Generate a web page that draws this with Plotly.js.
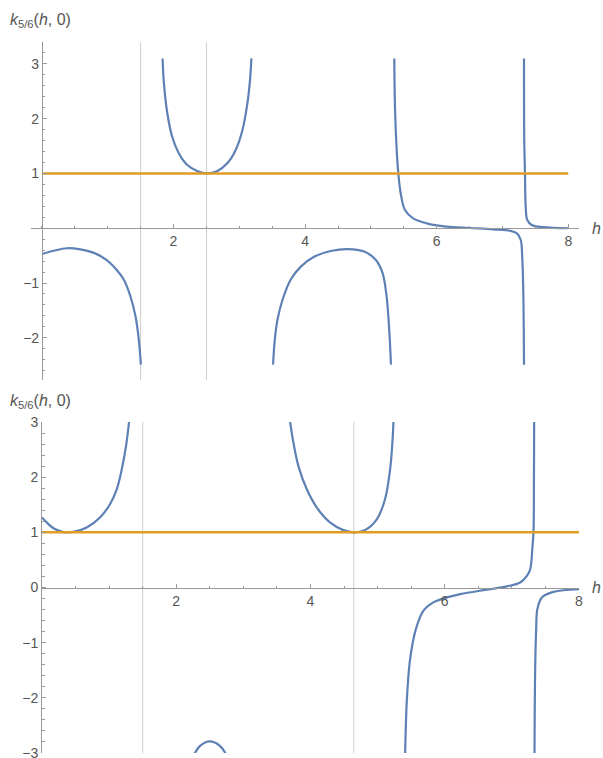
<!DOCTYPE html>
<html>
<head>
<meta charset="utf-8">
<script src="https://cdn.plot.ly/plotly-3.0.1.min.js"></script>
<style>
  html, body { margin: 0; padding: 0; background: #fff; }
  #plot { width: 603px; height: 758px; }
</style>
</head>
<body>
<div id="plot"></div>
<script>
// upper panel, branches of k(h)
const upA_h = [0, 0.18, 0.38, 0.585, 0.78, 0.985, 1.09, 1.245, 1.347, 1.423, 1.473, 1.504];
const upA_k = [-0.47, -0.41, -0.365, -0.385, -0.445, -0.58, -0.70, -0.94, -1.25, -1.61, -2.04, -2.49];
const upB_h = [1.834, 1.854, 1.906, 1.98, 2.08, 2.21, 2.36, 2.51, 2.667, 2.82, 2.945, 3.047, 3.123, 3.163, 3.184];
const upB_k = [3.10, 2.65, 2.10, 1.67, 1.37, 1.155, 1.045, 1.0, 1.045, 1.19, 1.43, 1.79, 2.28, 2.71, 3.10];
const upC_h = [3.513, 3.539, 3.58, 3.656, 3.78, 3.935, 4.137, 4.39, 4.645, 4.898, 5.076, 5.178, 5.239, 5.279, 5.305];
const upC_k = [-2.49, -2.04, -1.67, -1.31, -0.94, -0.70, -0.52, -0.415, -0.38, -0.425, -0.58, -0.82, -1.25, -1.86, -2.49];
const upD_h = [5.356, 5.366, 5.392, 5.417, 5.453, 5.518, 5.644, 5.848, 6.152, 6.506, 6.86, 7.114, 7.216, 7.277, 7.30, 7.316, 7.327];
const upD_k = [3.10, 2.22, 1.43, 1.00, 0.64, 0.334, 0.18, 0.09, 0.03, 0.005, -0.02, -0.045, -0.09, -0.21, -0.52, -1.13, -2.49];
const upE_h = [7.327, 7.331, 7.342, 7.353, 7.377, 7.444, 7.62, 8.0];
const upE_k = [3.10, 1.61, 1.00, 0.39, 0.15, 0.06, 0.02, 0.0];
const upGrid = [1.5, 2.5];

// lower panel
const loA_h = [0, 0.07, 0.17, 0.32, 0.39, 0.466, 0.666, 0.864, 1.013, 1.113, 1.188, 1.252, 1.297];
const loA_k = [1.27, 1.18, 1.075, 1.005, 1.0, 1.008, 1.087, 1.27, 1.51, 1.78, 2.14, 2.565, 3.0];
const loB_h = [2.27, 2.355, 2.50, 2.65, 2.74];
const loB_k = [-3.02, -2.87, -2.79, -2.87, -3.02];
const loC_h = [3.696, 3.745, 3.82, 3.945, 4.094, 4.29, 4.49, 4.64, 4.81, 4.99, 5.11, 5.186, 5.22, 5.236];
const loC_k = [3.0, 2.63, 2.20, 1.78, 1.45, 1.18, 1.04, 1.0, 1.04, 1.24, 1.60, 2.14, 2.63, 3.0];
const loD_h = [5.41, 5.435, 5.484, 5.57, 5.683, 5.83, 5.93, 6.23, 6.627, 6.925, 7.124, 7.224, 7.273, 7.307, 7.322, 7.328, 7.332];
const loD_k = [-3.02, -2.05, -1.30, -0.755, -0.42, -0.27, -0.22, -0.12, -0.04, 0.02, 0.09, 0.21, 0.33, 0.75, 1.0, 1.66, 3.0];
const loE_h = [7.337, 7.347, 7.362, 7.38, 7.447, 7.62, 8.0];
const loE_k = [-3.02, -1.48, -0.755, -0.39, -0.18, -0.08, -0.03];
const loGrid = [1.5, 4.645];

// reference level k = 1
const level_h = [0, 8];
const level_k = [1, 1];

const xTicks = [2, 4, 6, 8];
const upYTicks = [-2, -1, 1, 2, 3];
const loYTicks = [-3, -2, -1, 0, 1, 2, 3];

const blue = '#5e81b5';
const orange = '#e19c24';

function branch(h, k, xa, ya) {
  return {
    x: h, y: k, xaxis: xa, yaxis: ya, type: 'scatter', mode: 'lines',
    line: { color: blue, width: 2.2, shape: 'spline', smoothing: 1 },
    hoverinfo: 'skip'
  };
}
function level(xa, ya) {
  return {
    x: level_h, y: level_k, xaxis: xa, yaxis: ya, type: 'scatter', mode: 'lines',
    line: { color: orange, width: 2.5 }, hoverinfo: 'skip'
  };
}

const traces = [
  branch(upA_h, upA_k, 'x', 'y'),
  branch(upB_h, upB_k, 'x', 'y'),
  branch(upC_h, upC_k, 'x', 'y'),
  branch(upD_h, upD_k, 'x', 'y'),
  branch(upE_h, upE_k, 'x', 'y'),
  level('x', 'y'),
  branch(loA_h, loA_k, 'x2', 'y2'),
  branch(loB_h, loB_k, 'x2', 'y2'),
  branch(loC_h, loC_k, 'x2', 'y2'),
  branch(loD_h, loD_k, 'x2', 'y2'),
  branch(loE_h, loE_k, 'x2', 'y2'),
  level('x2', 'y2')
];

const W = 603, H = 758;
const tickfont = { family: 'Liberation Sans, Arial, sans-serif', size: 14, color: '#555' };
const axisCommon = {
  showline: true, linecolor: '#999', linewidth: 1,
  ticks: 'inside', ticklen: 4, tickcolor: '#999', tickwidth: 1,
  showgrid: false, zeroline: false, tickfont: tickfont, fixedrange: true,
  ticklabeloverflow: 'allow'
};

const shapes = [];
upGrid.forEach(v => shapes.push({
  type: 'line', xref: 'x', yref: 'y domain', x0: v, x1: v, y0: 0, y1: 1,
  line: { color: '#cccccc', width: 1 }, layer: 'below'
}));
loGrid.forEach(v => shapes.push({
  type: 'line', xref: 'x2', yref: 'y2 domain', x0: v, x1: v, y0: 0, y1: 1,
  line: { color: '#cccccc', width: 1 }, layer: 'below'
}));

const labelFont = { family: 'Liberation Sans, Arial, sans-serif', size: 16, color: '#555' };
const layout = {
  width: W, height: H,
  margin: { l: 0, r: 0, t: 0, b: 0 },
  paper_bgcolor: '#fff', plot_bgcolor: '#fff',
  showlegend: false,
  xaxis: Object.assign({}, axisCommon, {
    domain: [31 / W, 579 / W], range: [-0.166, 8.163],
    anchor: 'free', position: 1 - 228.3 / H,
    tickmode: 'array', tickvals: xTicks,
    minor: { tickmode: 'linear', tick0: 0, dtick: 0.5, ticks: 'inside', ticklen: 2.5, tickcolor: '#999' }
  }),
  yaxis: Object.assign({}, axisCommon, {
    domain: [1 - 380 / H, 1 - 42 / H], range: [-2.77, 3.40],
    anchor: 'free', position: 41.9 / W,
    tickmode: 'array', tickvals: upYTicks,
    minor: { tickmode: 'linear', tick0: 0, dtick: 0.2, ticks: 'inside', ticklen: 2.5, tickcolor: '#999' }
  }),
  xaxis2: Object.assign({}, axisCommon, {
    domain: [42 / W, 579 / W], range: [0, 8],
    anchor: 'free', position: 1 - 588.3 / H,
    tickmode: 'array', tickvals: xTicks,
    minor: { tickmode: 'linear', tick0: 0, dtick: 0.5, ticks: 'inside', ticklen: 2.5, tickcolor: '#999' }
  }),
  yaxis2: Object.assign({}, axisCommon, {
    domain: [1 - 753 / H, 1 - 422 / H], range: [-3, 3],
    anchor: 'x2',
    tickmode: 'array', tickvals: loYTicks,
    minor: { tickmode: 'linear', tick0: 0, dtick: 0.2, ticks: 'inside', ticklen: 2.5, tickcolor: '#999' }
  }),
  shapes: shapes,
  annotations: [
    { text: '<i>k</i><sub>5/6</sub>(<i>h</i>, 0)', xref: 'paper', yref: 'paper',
      x: 8 / W, y: 1 - 20 / H, xanchor: 'left', yanchor: 'middle', showarrow: false, font: labelFont },
    { text: '<i>k</i><sub>5/6</sub>(<i>h</i>, 0)', xref: 'paper', yref: 'paper',
      x: 8 / W, y: 1 - 401 / H, xanchor: 'left', yanchor: 'middle', showarrow: false, font: labelFont },
    { text: '<i>h</i>', xref: 'paper', yref: 'paper',
      x: 596 / W, y: 1 - 228 / H, xanchor: 'center', yanchor: 'middle', showarrow: false,
      font: { family: 'Liberation Sans, Arial, sans-serif', size: 16, color: '#555' } },
    { text: '<i>h</i>', xref: 'paper', yref: 'paper',
      x: 596 / W, y: 1 - 587 / H, xanchor: 'center', yanchor: 'middle', showarrow: false,
      font: { family: 'Liberation Sans, Arial, sans-serif', size: 16, color: '#555' } }
  ]
};

Plotly.newPlot('plot', traces, layout, { staticPlot: true, displayModeBar: false });
</script>
</body>
</html>
